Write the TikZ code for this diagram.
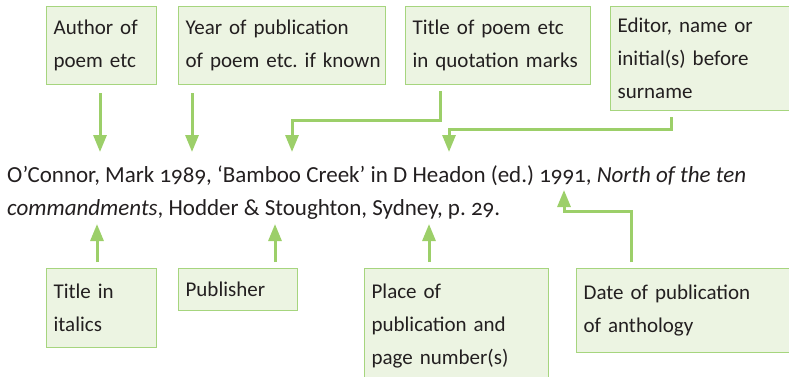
\documentclass[tikz,border=0pt]{standalone}
\usepackage{fontspec}
\setmainfont[Numbers=OldStyle]{Carlito}
\usetikzlibrary{arrows.meta}
\frenchspacing
\hyphenpenalty=10000
\definecolor{boxfill}{HTML}{ECF4E2}
\definecolor{boxline}{HTML}{A6D57E}
\definecolor{arrowgreen}{HTML}{9CCF69}
\definecolor{ink}{HTML}{231F20}
\tikzstyle{note} = [rectangle, draw=boxline, fill=boxfill, line width=1.2pt, anchor=north west, align=left, inner xsep=7pt, inner ysep=0pt, text=ink, font=\fontsize{21}{33}\selectfont]
\tikzstyle{entry} = [anchor=base west, inner sep=0pt, text=ink, font=\fontsize{23}{33}\selectfont]
\tikzstyle{arrow} = [draw=arrowgreen, line width=3pt, -{Triangle[width=13pt,length=17pt]}]

\begin{document}
\begin{tikzpicture}[x=1pt,y=-1pt]
\useasboundingbox (0,0) rectangle (789,376);
\clip (0,0) rectangle (789,376);

\node (author) [note, text width=96pt, minimum height=78pt] at (46,6) {Author of\\poem etc};
\node (year) [note, text width=193pt, minimum height=78pt] at (178,6) {Year of publication\\of~poem~etc.~if~known};
\node (title) [note, text width=171pt, minimum height=78pt] at (405,6) {Title of poem etc\\in~quotation~marks};
\node (editor) [note, text width=200pt, minimum height=104pt] at (610,6) {Editor, name or\\initial(s) before\\surname};

\node (line1) [entry] at (7,182) {O'Connor, Mark 1989, `Bamboo Creek' in D Headon (ed.) 1991, \textit{North of the ten}};
\node (line2) [entry] at (7,215) {\textit{commandments}, Hodder \& Stoughton, Sydney, p. 29.};

\node (italics) [note, text width=96pt, minimum height=79pt] at (46,268) {Title in\\italics};
\node (publisher) [note, text width=105pt, minimum height=42pt] at (178,268) {Publisher};
\node (place) [note, text width=170pt, minimum height=115pt] at (364,268) {Place of\\publication and\\page number(s)};
\node (anthology) [note, text width=220pt, minimum height=84pt] at (576,268) {Date of publication\\of anthology};

\coordinate (tauthor) at (100,152);
\coordinate (tyear) at (192,152);
\coordinate (ttitle) at (292,152);
\coordinate (teditor) at (449,152);
\coordinate (titalics) at (97,224);
\coordinate (tpublisher) at (275,224);
\coordinate (tplace) at (429,224);
\coordinate (tdate) at (564,190);

\draw [arrow] (tauthor |- author.south) ++(0,8) -- (tauthor);
\draw [arrow] (tyear |- year.south) ++(0,8) -- (tyear);
\draw [arrow] (title.south west) ++(35,6) -- ++(0,29) -| (ttitle);
\draw [arrow] (editor.south west) ++(61,6) -- ++(0,12) -| (teditor);
\draw [arrow] (titalics |- italics.north) ++(0,-6) -- (titalics);
\draw [arrow] (tpublisher |- publisher.north) ++(0,-6) -- (tpublisher);
\draw [arrow] (tplace |- place.north) ++(0,-6) -- (tplace);
\draw [arrow] (anthology.north west) ++(55,-6) -- ++(0,-51) -| (tdate);
\end{tikzpicture}
\end{document}
